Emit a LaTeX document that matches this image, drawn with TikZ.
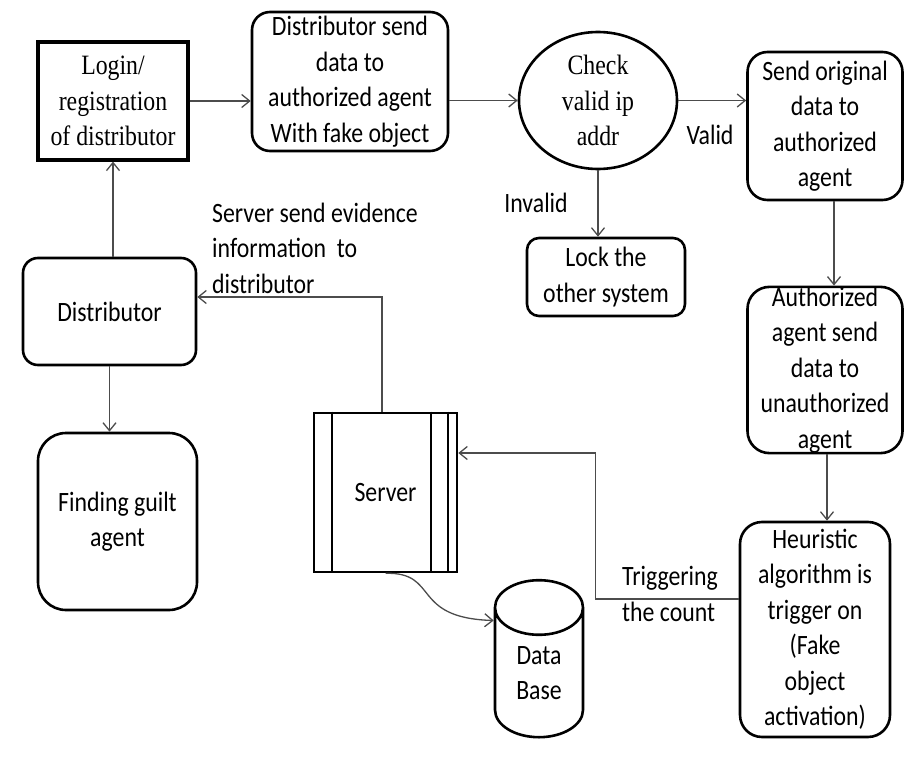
\documentclass[tikz,border=0pt]{standalone}
\usepackage{fontspec}
\setmainfont[FakeStretch=0.85]{Carlito}
\newfontfamily\boxserif[FakeStretch=0.85]{Liberation Serif}
\usetikzlibrary{arrows.meta, positioning, shapes.geometric, calc}
\newcommand{\bigtext}{\fontsize{28}{35.5}\selectfont}
\tikzset{
  box/.style = {
    draw, rounded corners=18pt, align=center, inner sep=0pt, line width=2.6pt, font=\bigtext
  },
  sharpbox/.style = {
    draw, align=center, inner sep=0pt, line width=3.2pt, font=\boxserif\bigtext
  },
  decision/.style = {
    ellipse, draw, align=center, inner sep=0pt, line width=2.6pt, font=\boxserif\bigtext
  },
  procbox/.style = {
    draw, align=center, inner sep=0pt, line width=2.6pt, font=\bigtext
  },
  db/.style = {
    cylinder, draw, shape border rotate=90, aspect=1.2, align=center, inner sep=0pt,
    line width=2.6pt, font=\bigtext
  },
  arrow/.style = {-{Straight Barb[length=8pt,width=13pt]}, line width=1.3pt, draw=black!70},
  note/.style = {align=left, inner sep=0pt, font=\bigtext},
}
\begin{document}
\begin{tikzpicture}[x=1pt, y=-1pt]
    \useasboundingbox (0,0) rectangle (905,765);

    % Top row
    \node[sharpbox, minimum width=150pt, minimum height=118pt] (login) at (113,101) {Login/\\registration\\of distributor};
    \node[box, minimum width=196pt, minimum height=139pt] (send) at (350,81.5) {Distributor send\\data to\\authorized agent\\With fake object};
    \node[decision, minimum width=158pt, minimum height=137pt] (check) at (598,100.5) {Check\\valid ip\\addr};
    \node[box, rounded corners=20pt, minimum width=155pt, minimum height=148pt] (orig) at (825,126) {Send original\\data to\\authorized\\agent};

    % Invalid branch
    \node[box, rounded corners=12pt, minimum width=158pt, minimum height=78pt] (lock) at (606,277) {Lock the\\other system};

    % Right column
    \node[box, rounded corners=22pt, minimum width=155pt, minimum height=166pt] (auth) at (825,370) {Authorized\\agent send\\data to\\unauthorized\\agent};
    \node[box, rounded corners=22pt, minimum width=150pt, minimum height=215pt] (heur) at (815,629.5) {Heuristic\\algorithm is\\trigger on\\(Fake\\object\\activation)};

    % Left column
    \node[box, rounded corners=15pt, minimum width=173pt, minimum height=107pt] (dist) at (109.5,311.5) {Distributor};
    \node[box, rounded corners=28pt, minimum width=159pt, minimum height=177pt] (find) at (117.5,521.5) {Finding guilt\\agent};

    % Server and data base
    \node[procbox, minimum width=143pt, minimum height=159pt] (server) at (385.5,492.5) {Server};
    \draw[line width=2.6pt] ([xshift=-53.5pt]server.north) -- ([xshift=-53.5pt]server.south);
    \draw[line width=2.6pt] ([xshift=45.5pt]server.north) -- ([xshift=45.5pt]server.south);
    \draw[line width=2.6pt] ([xshift=62.5pt]server.north) -- ([xshift=62.5pt]server.south);
    \node[db, minimum width=88pt, minimum height=157pt] (base) at (539,673) {Data\\Base};

    % Labels
    \node[note] (valid) at (710,135) {Valid};
    \node[note] (invalid) at (536,203) {Invalid};
    \node[note, anchor=west] (evidence) at (212,248) {Server send evidence\\information\ \ to\\distributor};
    \node[note, anchor=west] (trigger) at (622,594) {Triggering\\the count};

    % Arrows
    \draw[arrow] (login.east) -- (login.east -| send.west);
    \draw[arrow] (check.west -| send.east) -- (check.west);
    \draw[arrow] (check.east) -- (check.east -| orig.west);
    \draw[arrow] (check.south) -- (check.south |- lock.north);
    \draw[arrow] ([xshift=9pt]orig.south) -- ([xshift=9pt]auth.north);
    \draw[arrow] ([xshift=2pt]auth.south) -- ([xshift=2pt]auth.south |- heur.north);
    \draw[arrow] ([yshift=30.5pt]heur.west) -- ++(-143,0) |- ([yshift=39.5pt]server.east);
    \draw[arrow] ([xshift=-3.5pt]server.north) |- ([yshift=14.5pt]dist.east);
    \draw[arrow] (login.south |- dist.north) -- (login.south);
    \draw[arrow] (dist.south) -- (dist.south |- find.north);
    \draw[arrow] (server.south) .. controls (440,572) and (410,618) .. ([yshift=52.5pt]base.west);
\end{tikzpicture}
\end{document}
